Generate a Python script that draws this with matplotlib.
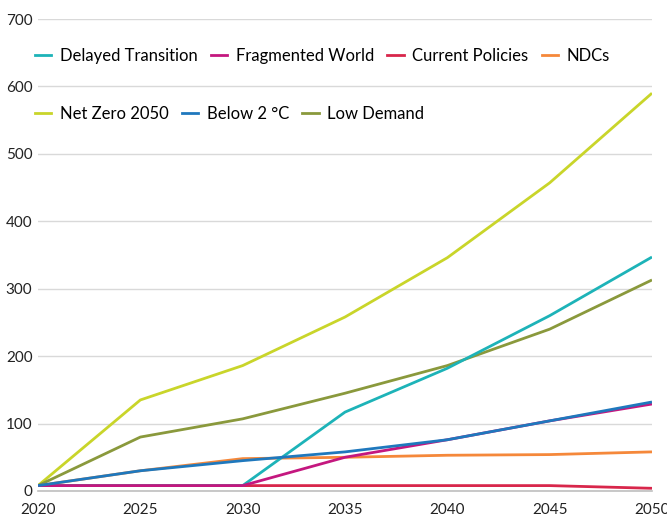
import matplotlib.pyplot as plt
from matplotlib.lines import Line2D

years = [2020, 2025, 2030, 2035, 2040, 2045, 2050]

delayed_transition = [8, 8, 8, 117, 182, 260, 347]
fragmented_world = [8, 8, 8, 50, 76, 104, 129]
current_policies = [8, 8, 8, 8, 8, 8, 4]
ndcs = [8, 30, 48, 50, 53, 54, 58]
net_zero = [8, 135, 186, 258, 346, 457, 590]
below_2c = [8, 30, 45, 58, 76, 104, 132]
low_demand = [8, 80, 107, 145, 186, 240, 313]

names = ["Delayed Transition", "Fragmented World", "Current Policies", "NDCs",
         "Net Zero 2050", "Below 2 °C", "Low Demand"]
series = [delayed_transition, fragmented_world, current_policies, ndcs,
          net_zero, below_2c, low_demand]
colors = ["#1db3b8", "#c4177f", "#d8264b", "#f5883a",
          "#c9d52a", "#1f78bd", "#8a993c"]

plt.rcParams['font.family'] = ['Lato', 'DejaVu Sans']

fig = plt.figure(figsize=(6.67, 5.22), dpi=100)
ax = fig.add_axes([0.057, 0.0594, 0.9205, 0.9042])

# draw order: bottom lines first so the crowded ones overlap like the original
order = [3, 2, 4, 6, 0, 1, 5]
for i in order:
    ax.plot(years, series[i], color=colors[i], lw=2.0, solid_capstyle='butt')

ax.set_xlim(2020, 2050)
ax.set_ylim(0, 700)
ax.set_xticks(years)
ax.set_yticks(range(0, 701, 100))
ax.grid(axis='y', color='#d9d9d9', lw=1)
ax.set_axisbelow(True)
for s in ['top', 'right', 'left']:
    ax.spines[s].set_visible(False)
ax.spines['bottom'].set_color('#bfbfbf')
ax.spines['bottom'].set_linewidth(1.2)
ax.tick_params(length=0, labelsize=11, colors='#222222')
ax.tick_params(axis='y', pad=4)
ax.tick_params(axis='x', pad=9)

handles = [Line2D([0], [0], color=c, lw=2) for c in colors]
leg1 = ax.legend(handles[:4], names[:4], loc='upper left', ncol=4,
                 bbox_to_anchor=(-0.03, 0.971), frameon=False, fontsize=12,
                 handlelength=1.0, handletextpad=0.5, columnspacing=0.8)
ax.add_artist(leg1)
ax.legend(handles[4:], names[4:], loc='upper left', ncol=3,
          bbox_to_anchor=(-0.03, 0.848), frameon=False, fontsize=12,
          handlelength=1.0, handletextpad=0.5, columnspacing=0.8)

fig.savefig("out.png", dpi=100)
